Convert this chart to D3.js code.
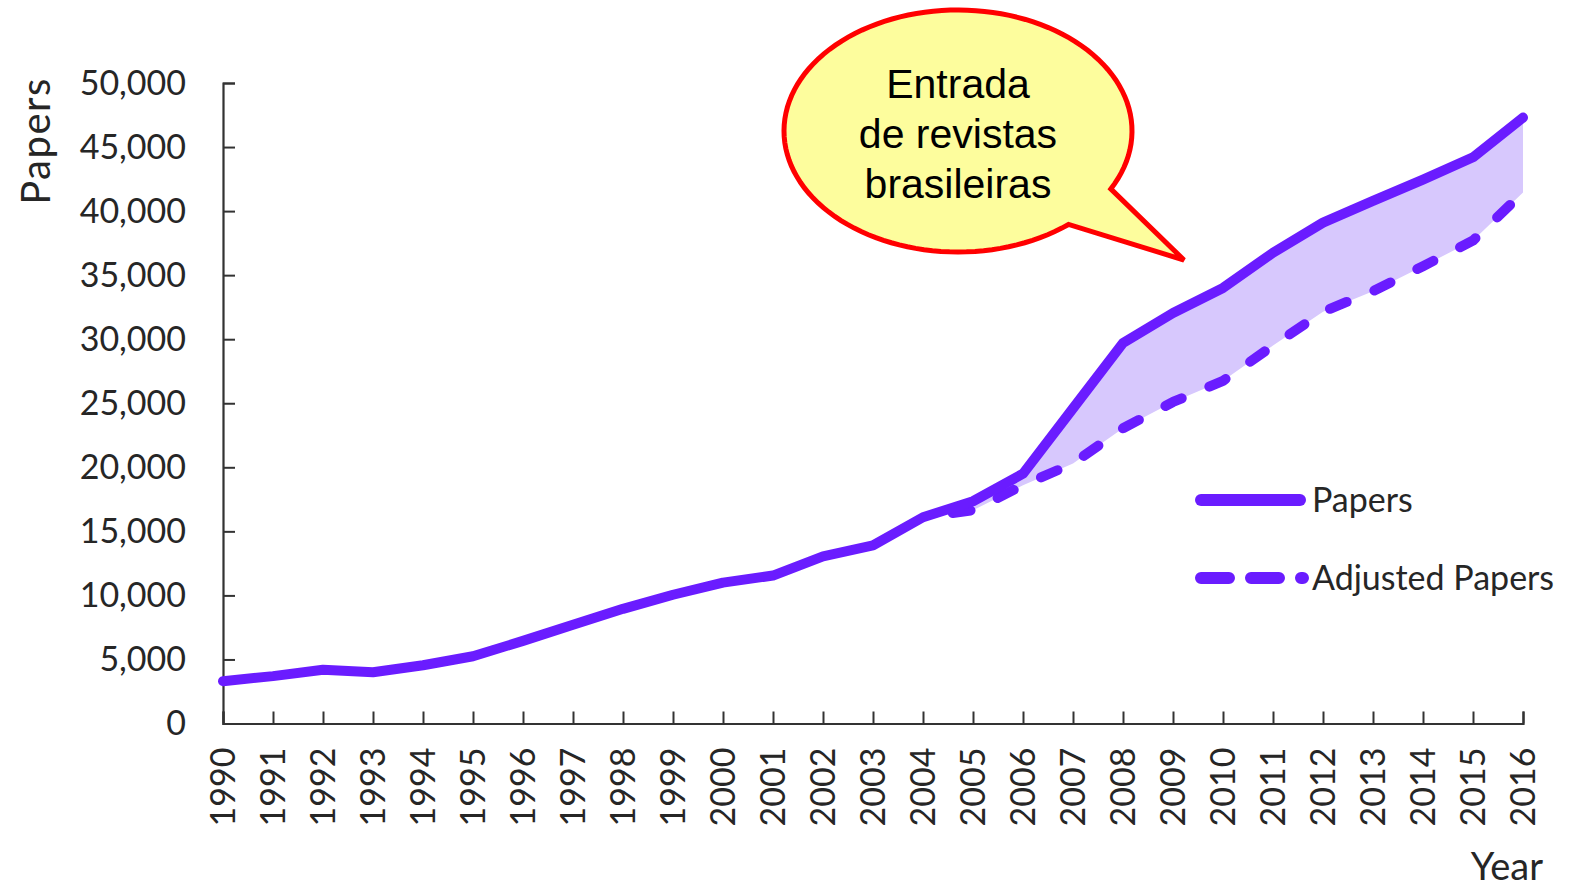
<!DOCTYPE html>
<html>
<head>
<meta charset="utf-8">
<script src="https://cdn.jsdelivr.net/npm/d3@7"></script>
<style>
  body { margin: 0; background: #fff; }
  text { fill: #262626; }
</style>
</head>
<body>
<div id="vis"></div>
<script>
// data
const years = [1990, 1991, 1992, 1993, 1994, 1995, 1996, 1997, 1998, 1999, 2000, 2001, 2002,
  2003, 2004, 2005, 2006, 2007, 2008, 2009, 2010, 2011, 2012, 2013, 2014, 2015, 2016];
const papers = [3300, 3700, 4200, 4000, 4550, 5250, 6450, 7700, 8950, 10050, 11000, 11550, 13050,
  13900, 16100, 17350, 19500, 24600, 29700, 32050, 34000, 36750, 39100, 40800, 42450, 44200, 47300];
const adjYears = [2004, 2005, 2006, 2007, 2008, 2009, 2010, 2011, 2012, 2013, 2014, 2015, 2016];
const adjusted = [16100, 16650, 18600, 20300, 23050, 25100, 26750, 29500, 32150, 33750, 35700, 37700, 41450];
const yTicks = [0, 5000, 10000, 15000, 20000, 25000, 30000, 35000, 40000, 45000, 50000];
const seriesNames = ["Papers", "Adjusted Papers"];
const calloutLines = ["Entrada", "de revistas", "brasileiras"];

const W = 1580, H = 892;
const purple = "#6a1cff";
const font = "Lato, 'Open Sans', sans-serif";

const svg = d3.select("#vis").append("svg")
    .attr("width", W)
    .attr("height", H);

// scales
var x = d3.scaleLinear().domain([1990, 2016]).range([223, 1523]);
var y = d3.scaleLinear().domain([0, 50000]).range([723.5, 83]);

const paperPts = years.map((d, i) => ({year: d, v: papers[i]}));
const adjPts = adjYears.map((d, i) => ({year: d, v: adjusted[i], top: papers[years.indexOf(d)]}));

// shaded gap between the two series
svg.append("path")
    .datum(adjPts)
    .attr("fill", "#d7c8fd")
    .attr("d", d3.area()
        .x(d => x(d.year))
        .y0(d => y(d.v))
        .y1(d => y(d.top)));

// axes
const axisColor = "#333";
svg.append("g")
    .attr("transform", "translate(0," + y(0) + ")")
    .call(d3.axisBottom(x).tickValues(years).tickSize(-12).tickFormat(""))
    .call(g => g.select(".domain").attr("stroke", axisColor).attr("stroke-width", 2.2))
    .call(g => g.selectAll(".tick line").attr("stroke", axisColor).attr("stroke-width", 2));

svg.append("g")
    .attr("transform", "translate(" + x(1990) + ",0)")
    .call(d3.axisLeft(y).tickValues(yTicks).tickSize(-12).tickFormat(""))
    .call(g => g.select(".domain").attr("stroke", axisColor).attr("stroke-width", 2.2))
    .call(g => g.selectAll(".tick line").attr("stroke", axisColor).attr("stroke-width", 2));

// y tick labels
svg.append("g").selectAll("text")
    .data(yTicks)
    .join("text")
    .attr("x", 186)
    .attr("y", d => y(d))
    .attr("dy", "0.35em")
    .attr("text-anchor", "end")
    .style("font-family", font)
    .style("font-size", "34px")
    .text(d => d3.format(",")(d));

// x tick labels, rotated
svg.append("g").selectAll("text")
    .data(years)
    .join("text")
    .attr("transform", d => "translate(" + x(d) + "," + (y(0) + 24) + ") rotate(-90)")
    .attr("dy", "0.36em")
    .attr("text-anchor", "end")
    .style("font-family", font)
    .style("font-size", "34px")
    .text(d => d);

// axis titles
svg.append("text")
    .attr("transform", "translate(36,141) rotate(-90)")
    .attr("dy", "0.35em")
    .attr("text-anchor", "middle")
    .style("font-family", font)
    .style("font-size", "40px")
    .style("letter-spacing", "1.5px")
    .text("Papers");

svg.append("text")
    .attr("x", 1543)
    .attr("y", 880)
    .attr("text-anchor", "end")
    .style("font-family", font)
    .style("font-size", "38px")
    .text("Year");

// lines
const line = d3.line().x(d => x(d.year)).y(d => y(d.v));

svg.append("path")
    .datum(adjPts)
    .attr("fill", "none")
    .attr("stroke", purple)
    .attr("stroke-width", 10)
    .attr("stroke-linecap", "round")
    .attr("stroke-linejoin", "round")
    .attr("stroke-dasharray", "18,30")
    .attr("stroke-dashoffset", -30)
    .attr("d", line);

svg.append("path")
    .datum(paperPts)
    .attr("fill", "none")
    .attr("stroke", purple)
    .attr("stroke-width", 10)
    .attr("stroke-linejoin", "round")
    .attr("stroke-linecap", "round")
    .attr("d", line);

// legend
const legend = svg.append("g").selectAll("g")
    .data(seriesNames)
    .join("g")
    .attr("transform", (d, i) => "translate(1201," + (500 + i * 78) + ")");

legend.append("line")
    .attr("x1", 0).attr("x2", (d, i) => i ? 102 : 99)
    .attr("stroke", purple)
    .attr("stroke-width", 12)
    .attr("stroke-linecap", "round")
    .attr("stroke-dasharray", (d, i) => i ? "28,22" : null);

legend.append("text")
    .attr("x", 111)
    .attr("dy", "0.35em")
    .style("font-family", font)
    .style("font-size", "34px")
    .text(d => d);

// speech bubble: ellipse outline with a gap where the tail joins
const cx = 958, cy = 131, rx = 174, ry = 121;
const a0 = Math.atan2((189 - cy) / ry, (1111 - cx) / rx);
const a1 = Math.atan2((224 - cy) / ry, (1068 - cx) / rx);
const steps = 120;
const outline = [];
const span = 2 * Math.PI - (a1 - a0);
for (let k = 0; k <= steps; k++) {
  const t = a1 + span * k / steps;
  outline.push([cx + rx * Math.cos(t), cy + ry * Math.sin(t)]);
}
outline.push([1184, 260]);

svg.append("path")
    .attr("d", d3.line()(outline) + "Z")
    .attr("fill", "#fdfd9d")
    .attr("stroke", "#ff0000")
    .attr("stroke-width", 5)
    .attr("stroke-linejoin", "miter");

svg.append("g").selectAll("text")
    .data(calloutLines)
    .join("text")
    .attr("x", cx)
    .attr("y", (d, i) => 98 + i * 50)
    .attr("text-anchor", "middle")
    .style("font-family", "'Liberation Sans', Arial, sans-serif")
    .style("font-size", "41px")
    .style("fill", "#000")
    .text(d => d);
</script>
</body>
</html>
